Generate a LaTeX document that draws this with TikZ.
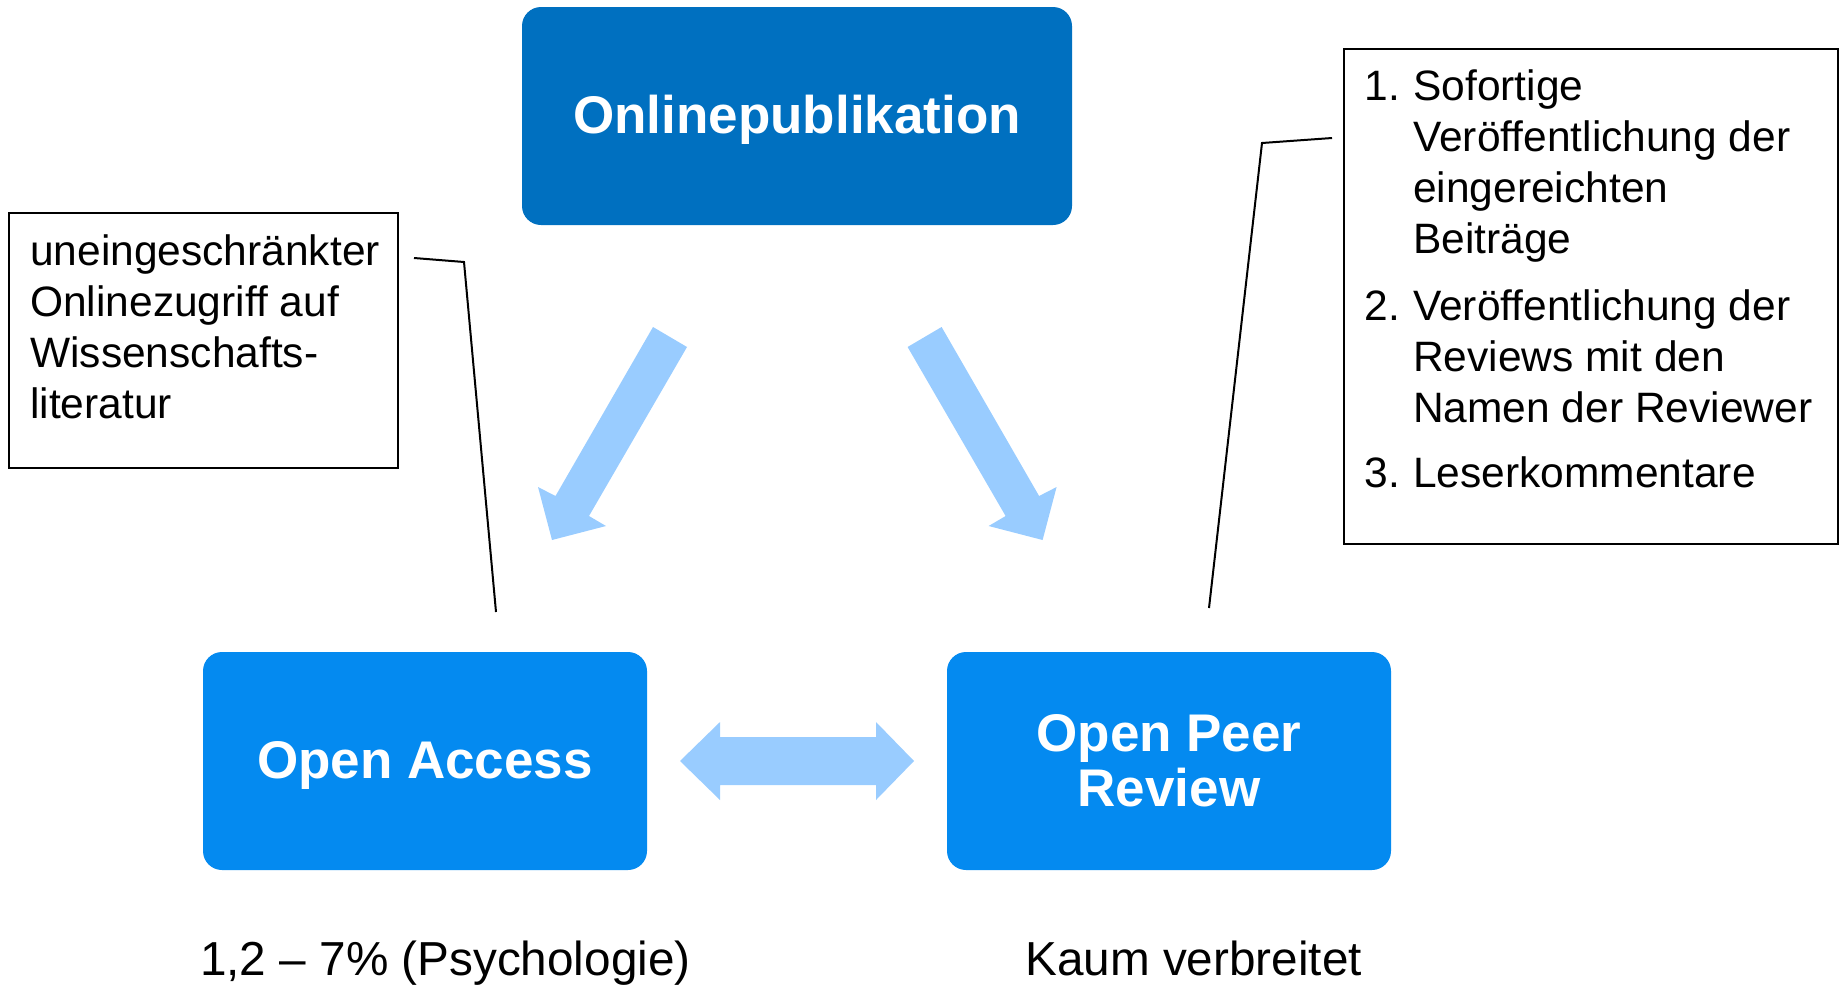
\documentclass[tikz,border=0pt]{standalone}
\usepackage{fontspec}
\setmainfont{Liberation Sans}
\definecolor{topblue}{RGB}{0,112,192}
\definecolor{boxblue}{RGB}{4,138,240}
\definecolor{arrowblue}{RGB}{153,204,255}
\begin{document}
\begin{tikzpicture}[x=1pt,y=-1pt,
  mainbox/.style={rectangle, rounded corners=19pt, minimum width=#1, minimum height=218pt,
    inner sep=0pt, text=white, font=\fontsize{53}{55}\selectfont\bfseries, align=center},
  callout/.style={rectangle, draw=black, line width=2pt, inner sep=0pt, fill=white},
  callouttext/.style={anchor=north west, inner sep=0pt, font=\fontsize{42.5}{51}\selectfont},
  bottomtext/.style={anchor=base west, inner sep=0pt, font=\fontsize{47.7}{55}\selectfont},
  blockarrow/.style={fill=arrowblue, draw=none},
  leader/.style={draw=black, line width=2pt}
]
\useasboundingbox (0,0) rectangle (1841,985);

% main boxes
\node[mainbox=550pt, fill=topblue, text height=45pt, text depth=11pt] (online) at (797,116) {Onlinepublikation};
\node[mainbox=444pt, fill=boxblue, text height=45pt, text depth=11pt] (oa) at (425,761) {Open Access};
\node[mainbox=444pt, fill=boxblue] (opr) at (1169,761) {Open Peer\\Review};

% block arrows
\path[blockarrow] (653,327) -- (687,347) -- (589,516) -- (606,526) -- (552,540)
  -- (538,487) -- (555.5,496) -- cycle;
\path[blockarrow] (941.6,327) -- (907.6,347) -- (1005.6,516) -- (988.6,526)
  -- (1042.6,540) -- (1056.6,487) -- (1039.1,496) -- cycle;
\path[blockarrow] (680,761) -- (720,722) -- (720,737) -- (876,737) -- (876,722)
  -- (914,761) -- (876,800) -- (876,785) -- (720,785) -- (720,800) -- cycle;

% left callout
\node[callout, minimum width=389pt, minimum height=255pt] (leftbox) at (203.5,340.5) {};
\node[callouttext] (lefttext) at (30,229.3) {\begin{tabular}{@{}l@{}}
uneingeschränkter\\
Onlinezugriff auf\\
Wissenschafts-\\
literatur
\end{tabular}};
\coordinate (l1) at (414,258);
\coordinate (l2) at (464,262);
\coordinate (l3) at (496,612);
\draw[leader] (l1) -- (l2) -- (l3);

% right callout
\node[callout, minimum width=494pt, minimum height=495pt] (rightbox) at (1591,296.5) {};
\node[callouttext] (righttext) at (1364.5,64.3) {\begin{tabular}{@{}l@{}l@{}}
\makebox[48.5pt][l]{1.} & Sofortige\\
 & Veröffentlichung der\\
 & eingereichten\\
 & Beiträge\\[16pt]
\makebox[48.5pt][l]{2.} & Veröffentlichung der\\
 & Reviews mit den\\
 & Namen der Reviewer\\[14pt]
\makebox[48.5pt][l]{3.} & Leserkommentare
\end{tabular}};
\coordinate (r1) at (1332,138);
\coordinate (r2) at (1262,143);
\coordinate (r3) at (1209,608);
\draw[leader] (r1) -- (r2) -- (r3);

% bottom labels
\node[bottomtext] (oalabel) at (200,975) {1,2 – 7\% (Psychologie)};
\node[bottomtext] (oprlabel) at (1025,975) {Kaum verbreitet};
\end{tikzpicture}
\end{document}
